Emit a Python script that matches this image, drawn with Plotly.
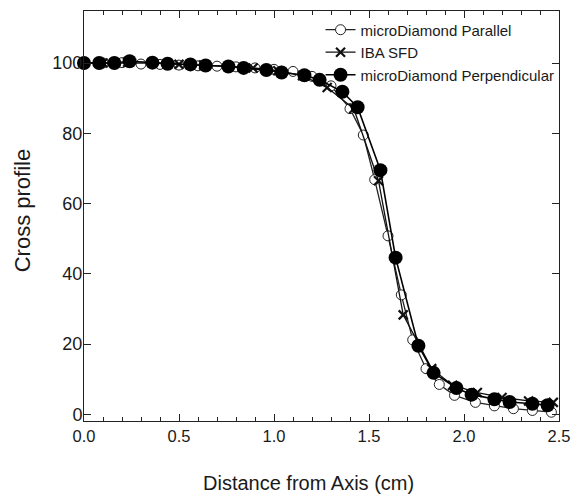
import plotly.graph_objects as go

# microDiamond Parallel (open circles)
par_x = [0.0, 0.1, 0.2, 0.3, 0.4, 0.5, 0.6, 0.7, 0.8, 0.9, 1.0, 1.1, 1.2, 1.3,
         1.4, 1.47, 1.53, 1.6, 1.67, 1.73, 1.8, 1.87, 1.95, 2.06, 2.16, 2.26, 2.36, 2.46]
par_y = [100.0, 100.0, 100.1, 99.7, 99.6, 99.4, 99.2, 99.1, 98.9, 98.6, 98.2, 97.6, 96.2, 93.5,
         87.0, 79.5, 66.8, 50.8, 34.0, 21.2, 13.0, 8.5, 5.4, 3.4, 2.4, 1.6, 1.1, 0.6]

# IBA SFD (crosses)
iba_x = [0.0, 0.10, 0.23, 0.36, 0.50, 0.63, 0.76, 0.89, 1.02, 1.15, 1.28, 1.42,
         1.55, 1.68, 1.83, 1.94, 2.07, 2.20, 2.34, 2.47]
iba_y = [100.0, 100.0, 100.2, 100.0, 99.6, 99.4, 99.1, 98.6, 97.8, 96.4, 93.0, 87.0,
         66.5, 28.3, 13.0, 8.3, 6.2, 4.8, 3.8, 3.4]

# microDiamond Perpendicular (filled circles)
per_x = [0.0, 0.08, 0.16, 0.24, 0.36, 0.44, 0.56, 0.64, 0.76, 0.84, 0.96, 1.04, 1.16, 1.24,
         1.36, 1.44, 1.56, 1.64, 1.76, 1.84, 1.96, 2.04, 2.16, 2.24, 2.36, 2.44]
per_y = [100.0, 100.0, 100.0, 100.5, 100.1, 99.8, 99.6, 99.3, 99.0, 98.6, 98.0, 97.3, 96.5, 95.2,
         91.8, 87.4, 69.5, 44.6, 19.5, 11.8, 7.5, 5.6, 4.3, 3.5, 3.0, 2.6]

x_ticks = [0.0, 0.5, 1.0, 1.5, 2.0, 2.5]
x_ticklabels = ["0.0", "0.5", "1.0", "1.5", "2.0", "2.5"]
y_ticks = [0, 20, 40, 60, 80, 100]

FONT = "Arial, Liberation Sans, sans-serif"
TXT = "#1a1a1a"

fig = go.Figure()
fig.add_trace(go.Scatter(
    x=par_x, y=par_y, mode="lines+markers", name="microDiamond Parallel",
    line=dict(color="#222222", width=1.3),
    marker=dict(symbol="circle", size=10, color="white", line=dict(color="#222222", width=1)),
    cliponaxis=False))
fig.add_trace(go.Scatter(
    x=iba_x, y=iba_y, mode="lines+markers", name="IBA SFD",
    line=dict(color="#111111", width=1.3),
    marker=dict(symbol="x-thin", size=9, color="#111111", line=dict(color="#111111", width=2.2)),
    cliponaxis=False))
fig.add_trace(go.Scatter(
    x=per_x, y=per_y, mode="lines+markers", name="microDiamond Perpendicular",
    line=dict(color="#000000", width=1.6),
    marker=dict(symbol="circle", size=14, color="#000000", line=dict(width=0)),
    cliponaxis=False))

fig.update_layout(
    width=580, height=504,
    margin=dict(l=84, r=15, t=10, b=83),
    paper_bgcolor="white", plot_bgcolor="white",
    font=dict(family=FONT, color=TXT, size=16),
    showlegend=True,
    legend=dict(x=0.498, xanchor="left", y=0.994, yanchor="top",
                bgcolor="rgba(0,0,0,0)", borderwidth=0,
                font=dict(family=FONT, size=15, color=TXT),
                itemwidth=30, tracegroupgap=0),
    xaxis=dict(range=[0, 2.5], tickmode="array", tickvals=x_ticks, ticktext=x_ticklabels,
               ticks="inside", ticklen=7, tickwidth=1, tickcolor="#222",
               showline=True, linecolor="#222", linewidth=1, mirror="ticks",
               showgrid=False, zeroline=False,
               tickfont=dict(size=16.5, family=FONT, color=TXT),
               minor=dict(ticks="inside", ticklen=4, tickcolor="#222", dtick=0.1, showgrid=False)),
    yaxis=dict(range=[-1.9, 114.8], tickmode="array", tickvals=y_ticks,
               ticks="inside", ticklen=7, tickwidth=1, tickcolor="#222",
               showline=True, linecolor="#222", linewidth=1, mirror="ticks",
               showgrid=False, zeroline=False, ticklabelstandoff=-3,
               tickfont=dict(size=18, family=FONT, color=TXT)),
    annotations=[
        dict(text="Distance from Axis (cm)", xref="paper", yref="paper",
             x=(311 - 84) / 481, y=(421 - 483) / 411, xanchor="center", yanchor="middle",
             showarrow=False, font=dict(size=20, family=FONT, color=TXT)),
        dict(text="Cross profile", xref="paper", yref="paper",
             x=(22 - 84) / 481, y=(421 - 210) / 411, xanchor="center", yanchor="middle",
             textangle=-90, showarrow=False, font=dict(size=22, family=FONT, color=TXT)),
    ],
)

fig.write_html("out.html")
